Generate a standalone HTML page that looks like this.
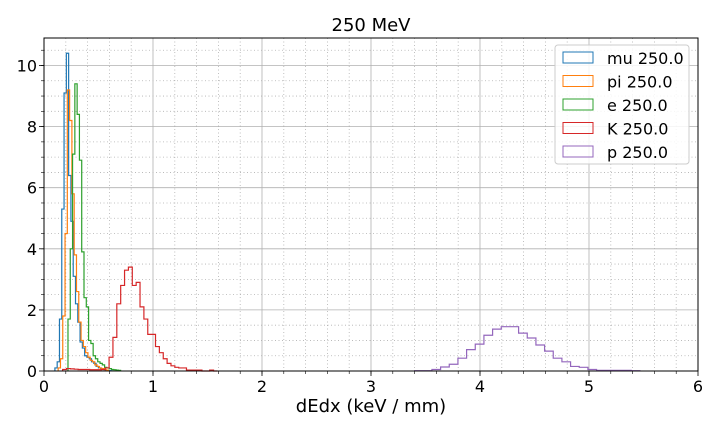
<!DOCTYPE html>
<html><head><meta charset="utf-8"><style>
body{margin:0;background:#fff;}
svg{display:block;font-family:"DejaVu Sans","Liberation Sans",sans-serif;}
</style></head><body>
<svg id="chart" width="720" height="432"></svg>
<script>
const xTicks=[0,1,2,3,4,5,6];
const yTicks=[0,2,4,6,8,10];
const seriesNames=["mu 250.0","pi 250.0","e 250.0","K 250.0","p 250.0"];
const seriesColors=["#1f77b4","#ff7f0e","#2ca02c","#d62728","#9467bd"];
const binStarts=[0.10,0.13,0.22,0.171,3.4];
const binWidths=[0.021,0.021,0.021,0.0355,0.0795];
const muCounts=[0.1,0.3,1.7,5.3,9.1,10.4,6.4,4.9,3.1,2.2,1.6,0.95,0.75,0.5,0.45,0.4,0.3,0.25,0.15,0.1,0.08,0.05,0.03,0.02,0.01];
const piCounts=[0.1,0.4,1.8,4.5,9.2,8.2,5.8,3.8,2.6,1.6,1.0,0.8,0.6,0.45,0.35,0.3,0.2,0.15,0.1,0.08,0.05,0.03];
const eCounts=[1.7,4.0,7.1,9.4,8.4,6.9,3.9,2.4,2.1,1.0,0.9,0.5,0.4,0.3,0.25,0.2,0.12,0.1,0.08,0.05,0.04,0.03,0.02];
const kCounts=[0.05,0.08,0.07,0.06,0.05,0.05,0.05,0.04,0.04,0.04,0.05,0.1,0.45,1.1,2.2,2.8,3.3,3.4,2.8,2.9,2.1,1.7,1.2,1.2,0.8,0.6,0.4,0.25,0.17,0.12,0.1,0.1,0.03,0.03,0.03,0.03,0,0,0.03,0];
const pCounts=[0.01,0.01,0.05,0.13,0.22,0.42,0.7,0.88,1.17,1.37,1.45,1.45,1.24,1.08,0.85,0.65,0.42,0.3,0.15,0.12,0.05,0.02,0.02,0.02,0.02,0.01];
const allCounts=[muCounts,piCounts,eCounts,kCounts,pCounts];

const L=44,R=698,T=38,B=371,xMax=6,yMax=10.9;
const X=v=>L+v/xMax*(R-L);
const Y=v=>B-v/yMax*(B-T);
const NS="http://www.w3.org/2000/svg";
const svg=document.getElementById('chart');
function mk(tag,attrs,parent){const e=document.createElementNS(NS,tag);for(const k in attrs)e.setAttribute(k,attrs[k]);(parent||svg).appendChild(e);return e;}

for(let v=0.2;v<xMax;v+=0.2){if(Math.abs(v-Math.round(v))<1e-6)continue;
const g=mk('line',{x1:X(v),x2:X(v),y1:T,y2:B,stroke:'#b0b0b0','stroke-width':0.8,'stroke-dasharray':'1,2.5'});
}
for(let v=0.5;v<yMax;v+=0.5){if(Math.abs(v/2-Math.round(v/2))<1e-6)continue;
const g=mk('line',{x1:L,x2:R,y1:Y(v),y2:Y(v),stroke:'#b0b0b0','stroke-width':0.8,'stroke-dasharray':'1,2.5'});
}
xTicks.forEach(t=>{
const g=mk('line',{x1:X(t),x2:X(t),y1:T,y2:B,stroke:'#b0b0b0','stroke-width':0.8});

mk('line',{x1:X(t),x2:X(t),y1:B,y2:B+5,stroke:'#000','stroke-width':0.8});
const tx=mk('text',{x:X(t),y:B+21,'font-size':16,'text-anchor':'middle'});tx.textContent=t;

});
yTicks.forEach(t=>{
const g=mk('line',{x1:L,x2:R,y1:Y(t),y2:Y(t),stroke:'#b0b0b0','stroke-width':0.8});

mk('line',{x1:L-5,x2:L,y1:Y(t),y2:Y(t),stroke:'#000','stroke-width':0.8});
const tx=mk('text',{x:L-7,y:Y(t)+6,'font-size':16,'text-anchor':'end'});tx.textContent=t;

});
for(let v=0.2;v<xMax;v+=0.2)mk('line',{x1:X(v),x2:X(v),y1:B,y2:B+3,stroke:'#000','stroke-width':0.6});
for(let v=0.5;v<yMax;v+=0.5)mk('line',{x1:L-3,x2:L,y1:Y(v),y2:Y(v),stroke:'#000','stroke-width':0.6});

allCounts.forEach((c,i)=>{
let x0=binStarts[i],w=binWidths[i];
let d='M'+X(x0)+','+Y(0);
c.forEach((v,j)=>{d+=' L'+X(x0+j*w)+','+Y(v)+' L'+X(x0+(j+1)*w)+','+Y(v);});
d+=' L'+X(x0+c.length*w)+','+Y(0);
const p=mk('path',{d:d,fill:'none',stroke:seriesColors[i],'stroke-width':1.2});


});

const fr=mk('rect',{x:L,y:T,width:R-L,height:B-T,fill:'none',stroke:'#000','stroke-width':1});


const ti=mk('text',{x:(L+R)/2,y:31,'font-size':18,'text-anchor':'middle'});ti.textContent='250 MeV';

const xl=mk('text',{x:(L+R)/2,y:412,'font-size':18,'text-anchor':'middle'});xl.textContent='dEdx (keV / mm)';


const lg=mk('g',{});

mk('rect',{x:555,y:45,width:134,height:119,rx:3,fill:'#fff','fill-opacity':0.85,stroke:'#ccc'},lg);
seriesNames.forEach((n,i)=>{
const yy=58+i*23.5;
const sw=mk('rect',{x:563,y:yy-6,width:30,height:11,fill:'none',stroke:seriesColors[i],'stroke-width':1},lg);

const t=mk('text',{x:607,y:yy+6,'font-size':16},lg);t.textContent=n;

});
</script>
</body></html>
